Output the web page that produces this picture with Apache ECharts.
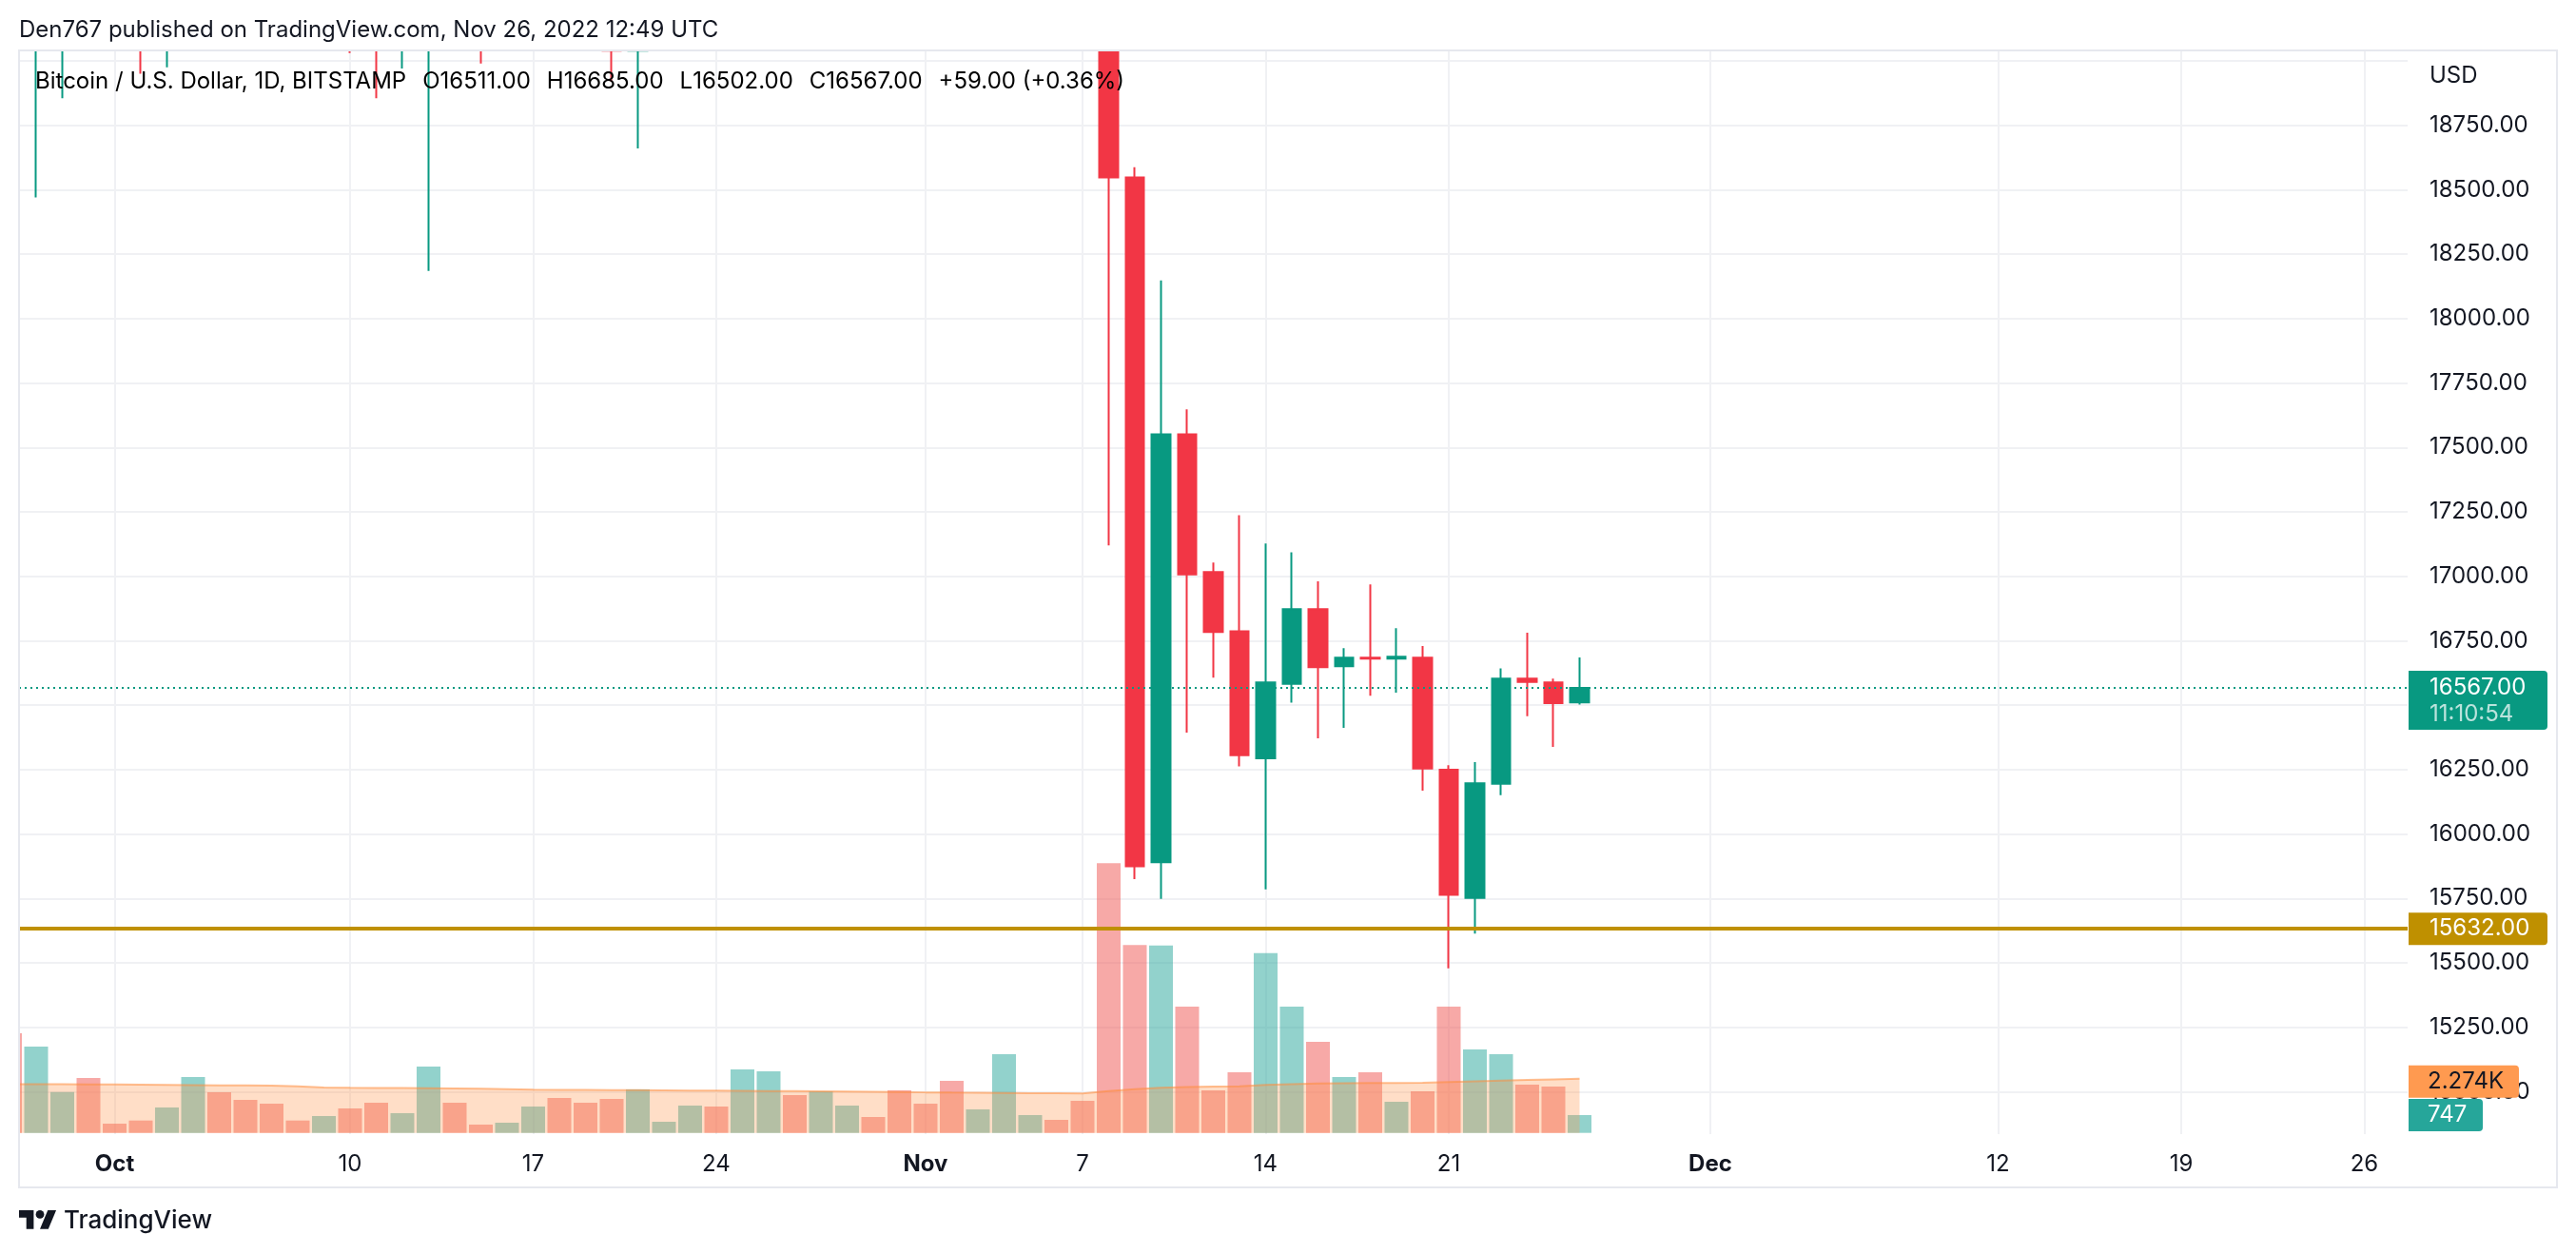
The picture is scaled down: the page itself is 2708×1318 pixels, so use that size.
<!DOCTYPE html>
<html>
<head>
<meta charset="utf-8">
<script src="https://cdn.jsdelivr.net/npm/echarts@6/dist/echarts.min.js"></script>
<style>html,body{margin:0;padding:0;background:#fff}#c{width:2708px;height:1318px}</style>
</head>
<body>
<div id="c"></div>
<script>
// ---------------- DATA ----------------
const dates = [
 '2022-09-27','2022-09-28','2022-09-29','2022-09-30','2022-10-01','2022-10-02','2022-10-03','2022-10-04',
 '2022-10-05','2022-10-06','2022-10-07','2022-10-08','2022-10-09','2022-10-10','2022-10-11','2022-10-12',
 '2022-10-13','2022-10-14','2022-10-15','2022-10-16','2022-10-17','2022-10-18','2022-10-19','2022-10-20',
 '2022-10-21','2022-10-22','2022-10-23','2022-10-24','2022-10-25','2022-10-26','2022-10-27','2022-10-28',
 '2022-10-29','2022-10-30','2022-10-31','2022-11-01','2022-11-02','2022-11-03','2022-11-04','2022-11-05',
 '2022-11-06','2022-11-07','2022-11-08','2022-11-09','2022-11-10','2022-11-11','2022-11-12','2022-11-13',
 '2022-11-14','2022-11-15','2022-11-16','2022-11-17','2022-11-18','2022-11-19','2022-11-20','2022-11-21',
 '2022-11-22','2022-11-23','2022-11-24','2022-11-25','2022-11-26'];
const openP = [19225,19085,19420,19595,19425,19310,19060,19630,20340,20160,19960,19530,19420,19445,19130,19055,
 19155,19380,19180,19065,19260,19550,19330,19130,19040,19170,19210,19570,19330,20090,20770,20290,
 20600,20810,20630,20490,20480,20150,20210,21150,21300,20920,20590,18548,15890,17551,17016,16787,
 16294,16583,16872,16651,16684,16680,16684,16249,15752,16195,16603,16588,16511];
const highP = [20385,19790,19645,20185,19485,19395,19720,20475,20365,20440,20060,19620,19560,19520,19260,19215,
 19510,19950,19230,19420,19690,19700,19350,19340,19250,19250,19690,19600,20400,21020,20870,20750,
 21080,20930,20830,20700,20790,20380,21300,21480,21360,21000,20670,18587,18148,17648,17053,17237,
 17127,17093,16980,16721,16968,16799,16729,16267,16279,16643,16781,16603,16685];
const lowP = [18820,18470,18855,19170,19160,18950,18975,19500,19750,19860,19330,19360,19320,19030,18855,18970,
 18185,19100,18990,19060,19160,19100,19080,18920,18660,19120,19070,19160,19240,20060,20220,20000,
 20560,20520,20230,20330,20060,20040,20180,21080,20900,20400,17120,15825,15748,16393,16607,16262,
 15785,16510,16371,16412,16536,16548,16168,15479,15613,16151,16457,16338,16502];
const closeP = [19085,19420,19595,19425,19310,19060,19630,20340,20160,19960,19530,19420,19445,19130,19055,19155,
 19380,19180,19065,19260,19550,19330,19130,19040,19170,19210,19570,19330,20090,20770,20290,20600,
 20810,20630,20490,20480,20150,20210,21150,21300,20920,20590,18548,15875,17551,17007,16784,16306,
 16588,16872,16647,16684,16680,16688,16254,15764,16197,16603,16590,16508,16567];
const volume = [4188,3627,1720,2307,387,520,1067,2347,1707,1387,1227,520,707,1027,1267,827,
 2787,1267,347,427,1107,1467,1267,1427,1827,467,1147,1107,2667,2587,1587,1747,
 1147,667,1787,1227,2187,987,3307,747,547,1347,11340,7900,7880,5307,1787,2547,
 7560,5307,3827,2347,2547,1307,1747,5307,3507,3307,2027,1947,747];
const volumeMA = [2053,2050,2047,2043,2035,2028,2020,2012,2003,1995,1985,1955,1905,1895,1890,1885,
 1878,1868,1855,1835,1815,1810,1806,1800,1795,1790,1782,1776,1770,1762,1755,1748,
 1740,1730,1718,1703,1695,1690,1682,1672,1665,1658,1760,1835,1895,1932,1948,1962,
 2015,2052,2075,2090,2096,2098,2108,2140,2170,2200,2228,2252,2274];
const priceGridValues = [15000,15250,15500,15750,16000,16250,16500,16750,17000,17250,17500,17750,18000,18250,18500,18750,19000];
const priceLabelValues = [15000,15250,15500,15750,16000,16250,16500,16750,17000,17250,17500,17750,18000,18250,18500,18750];
const timeTickDates = ['2022-10-01','2022-10-10','2022-10-17','2022-10-24','2022-11-01','2022-11-07','2022-11-14','2022-11-21','2022-12-01','2022-12-12','2022-12-19','2022-12-26'];
const timeTickLabels = ['Oct','10','17','24','Nov','7','14','21','Dec','12','19','26'];
const monthLabels = ['Oct','Nov','Dec'];
const supportLevel = 15632;
const countdown = '11:10:54';
const symbolTitle = 'Bitcoin / U.S. Dollar, 1D, BITSTAMP';
const headerText = 'Den767 published on TradingView.com, Nov 26, 2022 12:49 UTC';

// ---------------- LAYOUT ----------------
const W = 2708, H = 1318;
const PANE = {left: 20, top: 53, right: 2531, bottom: 1192};
const X_MIN = -3.6545, X_MAX = 87.655;      // visible day range
const Y_MIN = 14835.3, Y_MAX = 19040.6;     // visible price range
const V_MIN = -52, V_MAX = 45508;           // volume overlay scale
const FONT = 'Inter';
const TXT = '#131722';
const UP = '#089981', DOWN = '#f23645';

const DAY = 86400000, ORIGIN = Date.UTC(2022, 9, 1);
const dayIndex = s => { const p = s.split('-').map(Number); return (Date.UTC(p[0], p[1]-1, p[2]) - ORIGIN) / DAY; };
const xs = dates.map(dayIndex);
const tickXs = timeTickDates.map(dayIndex);

const candleData = dates.map((d, i) => [xs[i], openP[i], closeP[i], lowP[i], highP[i]]);
const volData = dates.map((d, i) => ({
  value: [xs[i], volume[i]],
  itemStyle: {color: closeP[i] >= openP[i] ? 'rgba(38,166,154,0.5)' : 'rgba(239,83,80,0.5)'}
}));
const maData = dates.map((d, i) => [xs[i], volumeMA[i]]);
const last = dates.length - 1;

const chart = echarts.init(document.getElementById('c'), null, {renderer: 'canvas', width: W, height: H});

const gridLine = {show: true, lineStyle: {color: '#f0f1f4', width: 2}};

const option = {
  animation: false,
  backgroundColor: '#ffffff',
  grid: {left: PANE.left, top: PANE.top, right: W - PANE.right, bottom: H - PANE.bottom, containLabel: false},
  xAxis: {
    type: 'value', min: X_MIN, max: X_MAX,
    axisLine: {show: false},
    axisTick: {show: false, customValues: tickXs},
    splitLine: gridLine,
    axisLabel: {
      customValues: tickXs, margin: 20,
      fontFamily: FONT, fontSize: 24, color: TXT,
      formatter: v => {
        const k = tickXs.findIndex(t => Math.abs(t - v) < 1e-6);
        const s = k >= 0 ? timeTickLabels[k] : '';
        return monthLabels.includes(s) ? '{b|' + s + '}' : s;
      },
      rich: {b: {fontFamily: FONT, fontSize: 24, fontWeight: 'bold', color: TXT}}
    }
  },
  yAxis: [
    {
      type: 'value', position: 'right', min: Y_MIN, max: Y_MAX,
      axisLine: {show: false},
      axisTick: {show: false, customValues: priceGridValues},
      splitLine: gridLine,
      axisLabel: {
        customValues: priceLabelValues, margin: 23, align: 'left',
        fontFamily: FONT, fontSize: 24, color: TXT,
        formatter: v => Number(v).toFixed(2)
      }
    },
    {type: 'value', min: V_MIN, max: V_MAX, show: false}
  ],
  series: [
    {
      type: 'bar', name: 'Volume', xAxisIndex: 0, yAxisIndex: 1,
      data: volData, barWidth: 25, z: 1, silent: true, clip: true
    },
    {
      type: 'line', name: 'Volume MA', xAxisIndex: 0, yAxisIndex: 1,
      data: maData, showSymbol: false, symbol: 'none', z: 2, silent: true, clip: true,
      lineStyle: {color: 'rgba(255,140,60,0.55)', width: 2},
      areaStyle: {color: 'rgba(255,150,80,0.45)'}
    },
    {
      type: 'candlestick', name: 'BTCUSD', xAxisIndex: 0, yAxisIndex: 0,
      data: candleData, encode: {x: 0, y: [1, 2, 3, 4]},
      barWidth: 20, clip: true, z: 3, silent: true,
      itemStyle: {color: UP, color0: DOWN, borderColor: UP, borderColor0: DOWN, borderWidth: 2},
      markLine: {
        silent: true, symbol: ['none', 'none'], label: {show: false}, animation: false,
        data: [
          {yAxis: closeP[last], lineStyle: {color: UP, type: [2, 4], width: 2}},
          {yAxis: supportLevel, lineStyle: {color: '#bf9000', type: 'solid', width: 4}}
        ]
      }
    }
  ]
};
chart.setOption(option);

// ---------------- OVERLAY TEXT / BOXES ----------------
const yP = v => chart.convertToPixel({yAxisIndex: 0}, v);
const yV = v => chart.convertToPixel({yAxisIndex: 1}, v);
const chg = closeP[last] - closeP[last - 1];
const pct = chg / closeP[last - 1] * 100;
const sgn = chg >= 0 ? '+' : '-';
const f2 = v => Number(v).toFixed(2);

const legendRich = {
  d: {fontFamily: FONT, fontSize: 24, color: TXT},
  g: {fontFamily: FONT, fontSize: 24, color: chg >= 0 ? UP : DOWN},
  s: {width: 17}
};
const legendStr = '{d|' + symbolTitle + '}{s|}{d|O}{g|' + f2(openP[last]) + '}{s|}{d|H}{g|' + f2(highP[last]) +
  '}{s|}{d|L}{g|' + f2(lowP[last]) + '}{s|}{d|C}{g|' + f2(closeP[last]) + '}{s|}{g|' + sgn + f2(Math.abs(chg)) +
  ' (' + sgn + Math.abs(pct).toFixed(2) + '%)}';

const boxX = PANE.right + 1, textX = PANE.right + 23;
const pLast = yP(closeP[last]);
const pSup = yP(supportLevel);
const pMA = yV(volumeMA[last]);
const pVol = yV(volume[last]);
const maLabel = (volumeMA[last] / 1000).toFixed(3) + 'K';

// TradingView logo geometry (36x28 icon units)
const LX = 20, LY = 1267.6, LS = 1.1;
const lp = pts => pts.map(p => [LX + p[0] * LS, LY + p[1] * LS]);

const graphic = [
  // masks hiding marks that overflow the pane (above and left)
  {type: 'rect', z: 40, silent: true, shape: {x: 0, y: 0, width: W, height: PANE.top}, style: {fill: '#ffffff'}},
  {type: 'rect', z: 40, silent: true, shape: {x: 0, y: 0, width: PANE.left, height: H}, style: {fill: '#ffffff'}},
  // frame
  {type: 'rect', z: 50, silent: true, shape: {x: 20, y: 53, width: 2668, height: 1195},
   style: {fill: 'none', stroke: '#e6e8ee', lineWidth: 2}},
  // header
  {type: 'text', z: 60, x: 20, y: 32, style: {text: headerText, font: '24px ' + FONT, fill: TXT, textVerticalAlign: 'middle'}},
  // legend
  {type: 'text', z: 60, x: 37, y: 86, style: {text: legendStr, rich: legendRich, font: '24px ' + FONT, textVerticalAlign: 'middle'}},
  // currency
  {type: 'text', z: 60, x: textX, y: 80, style: {text: 'USD', font: '24px ' + FONT, fill: TXT, textVerticalAlign: 'middle'}},
  // last price box
  {type: 'rect', z: 60, shape: {x: boxX, y: pLast - 18, width: 146, height: 62, r: [0, 4, 4, 0]}, style: {fill: UP}},
  {type: 'text', z: 61, x: textX, y: pLast, style: {text: f2(closeP[last]), font: '24px ' + FONT, fill: '#ffffff', textVerticalAlign: 'middle'}},
  {type: 'text', z: 61, x: textX, y: pLast + 28, style: {text: countdown, font: '24px ' + FONT, fill: 'rgba(255,255,255,0.72)', textVerticalAlign: 'middle'}},
  // support box
  {type: 'rect', z: 60, shape: {x: boxX, y: pSup - 17, width: 146, height: 34, r: [0, 4, 4, 0]}, style: {fill: '#bf9000'}},
  {type: 'text', z: 61, x: textX, y: pSup, style: {text: f2(supportLevel), font: '24px ' + FONT, fill: '#ffffff', textVerticalAlign: 'middle'}},
  // volume MA box
  {type: 'rect', z: 60, shape: {x: boxX, y: pMA - 14, width: 116, height: 34, r: [0, 4, 4, 0]}, style: {fill: '#ff9a50'}},
  {type: 'text', z: 61, x: textX - 2, y: pMA + 3, style: {text: maLabel, font: '24px ' + FONT, fill: TXT, textVerticalAlign: 'middle'}},
  // volume box
  {type: 'rect', z: 60, shape: {x: boxX, y: pVol - 17, width: 78, height: 34, r: [0, 4, 4, 0]}, style: {fill: '#26a69a'}},
  {type: 'text', z: 61, x: textX - 2, y: pVol, style: {text: String(volume[last]), font: '24px ' + FONT, fill: '#ffffff', textVerticalAlign: 'middle'}},
  // TradingView logo
  {type: 'polygon', z: 60, silent: true, shape: {points: lp([[14,22],[7,22],[7,11],[0,11],[0,4],[14,4]])}, style: {fill: TXT}},
  {type: 'polygon', z: 60, silent: true, shape: {points: lp([[28,22],[20,22],[27.5,4],[35.5,4]])}, style: {fill: TXT}},
  {type: 'circle', z: 60, silent: true, shape: {cx: LX + 20 * LS, cy: LY + 8 * LS, r: 4 * LS}, style: {fill: TXT}},
  {type: 'text', z: 60, x: 67, y: 1283, style: {text: 'TradingView', font: '500 26px ' + FONT, fill: TXT, textVerticalAlign: 'middle'}}
];
chart.setOption({graphic: graphic});
</script>
</body>
</html>
